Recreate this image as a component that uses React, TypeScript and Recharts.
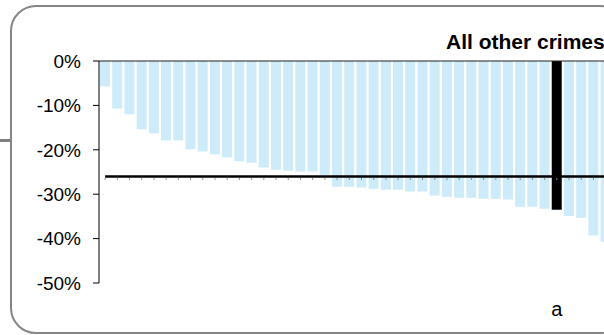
import { ComposedChart, Bar, Line, Cell, XAxis, YAxis, ReferenceLine } from 'recharts'

// percentage change per force, sorted (last one is off the visible crop)
const changes = [
  -5.7, -10.7, -12.0, -15.4, -16.3, -17.9, -17.9, -19.9, -20.4, -21.0,
  -21.7, -22.6, -22.9, -24.0, -24.5, -24.7, -24.9, -24.9, -25.6, -28.3,
  -28.3, -28.5, -28.8, -29.0, -29.0, -29.4, -29.4, -30.3, -30.6, -30.8,
  -30.8, -31.0, -31.0, -31.2, -32.8, -32.8, -33.3, -33.5, -34.9, -35.3,
  -39.3, -40.7, -45.0,
]
const highlightIndex = 37
const highlightLabel = 'a'
const average = -26
const yTicks = [0, -10, -20, -30, -40, -50]

const BAR_COLOR = '#cdebf8'
const FONT = '"Liberation Sans", Arial, sans-serif'

const data = changes.map((v, i) => ({
  label: i === highlightIndex ? highlightLabel : '',
  change: v,
  avg: average,
}))

// small grey marks hanging under the average line
const tickDot = (p: any) => (
  <line key={`d${p.index}`} x1={p.cx} x2={p.cx} y1={p.cy + 1.5} y2={p.cy + 3.5} stroke="#8a8a8a" strokeWidth={1} />
)

export default function App() {
  return (
    <div style={{ position: 'fixed', left: 0, top: 0, width: 604, height: 335, overflow: 'hidden', background: '#fff', fontFamily: FONT }}>
      <div style={{ position: 'absolute', left: 0, top: 139, width: 11, height: 3, background: '#808080' }} />
      <div style={{
        position: 'absolute', left: 10, top: 5, width: 616, height: 329,
        border: '2px solid #858585', borderRadius: 26, boxSizing: 'border-box',
      }} />
      <div style={{ position: 'absolute', left: 446, top: 31, fontSize: 21, lineHeight: '21px', fontWeight: 'bold', whiteSpace: 'nowrap', color: '#000' }}>
        All other crimes
      </div>
      <div style={{ position: 'absolute', left: 0, top: 0 }}>
        <ComposedChart width={640} height={335} data={data} margin={{ top: 61, right: 16, bottom: 12, left: 0 }}>
          <XAxis
            dataKey="label"
            interval={0}
            axisLine={false}
            tickLine={false}
            height={40}
            tickMargin={13}
            tick={{ fill: '#000', fontSize: 20, fontFamily: FONT }}
          />
          <YAxis
            width={99}
            domain={[-50, 0]}
            ticks={yTicks}
            interval={0}
            tickFormatter={(v) => `${v}%`}
            axisLine={{ stroke: '#000' }}
            tickLine={{ stroke: '#000' }}
            tickSize={6}
            tickMargin={12}
            tick={{ fill: '#000', fontSize: 19, fontFamily: FONT }}
          />
          <Bar dataKey="change" barSize={10} isAnimationActive={false}>
            {data.map((d, i) => (
              <Cell key={i} fill={i === highlightIndex ? '#000' : BAR_COLOR} />
            ))}
          </Bar>
          <ReferenceLine y={0} stroke="#222" strokeWidth={1} />
          <Line
            dataKey="avg"
            type="linear"
            stroke="#000"
            strokeWidth={2.5}
            dot={tickDot}
            activeDot={false}
            isAnimationActive={false}
          />
        </ComposedChart>
      </div>
    </div>
  )
}
